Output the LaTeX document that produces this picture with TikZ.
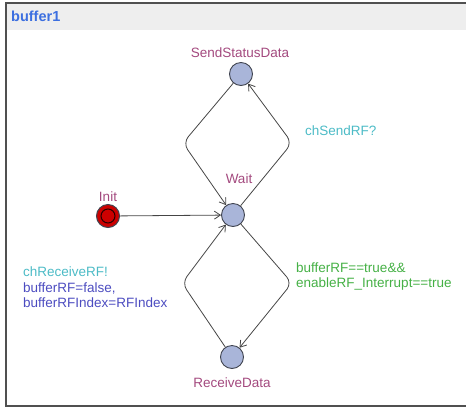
\documentclass[tikz,border=0pt]{standalone}
\usepackage{fontspec}
\setmainfont{Liberation Sans}
\usetikzlibrary{arrows.meta}
\definecolor{frameline}{HTML}{505050}
\definecolor{headfill}{HTML}{EEEEEE}
\definecolor{titleblue}{HTML}{3C6FE0}
\definecolor{locname}{HTML}{A3497E}
\definecolor{locfill}{HTML}{A9B5D9}
\definecolor{locline}{HTML}{404450}
\definecolor{initred}{HTML}{CC0000}
\definecolor{synccol}{HTML}{4CBBC6}
\definecolor{assigncol}{HTML}{4C4CC0}
\definecolor{guardcol}{HTML}{45B045}
\definecolor{edgecol}{HTML}{454545}
\tikzset{
  loc/.style={circle,draw=locline,fill=locfill,line width=0.9pt,minimum size=23pt,inner sep=0pt},
  initloc/.style={circle,draw=locline,fill=initred,line width=1pt,minimum size=23pt,inner sep=0pt},
  lname/.style={text=locname,font=\fontsize{13.5}{16}\selectfont,inner sep=0pt},
  lbl/.style={font=\fontsize{13.5}{16}\selectfont,inner sep=0pt,anchor=west,align=left},
  edge/.style={draw=edgecol,line width=0.8pt,rounded corners=8pt,-{Straight Barb[length=6pt,width=8pt]}}
}
\begin{document}
\begin{tikzpicture}[x=1pt,y=-1pt]
\useasboundingbox (0,0) rectangle (466,408);
% template frame with title bar
\fill[headfill] (6,3) rectangle (470,30);
\draw[frameline,line width=2pt] (470,3) -- (6,3) -- (6,406) -- (470,406);
\node[anchor=west,text=titleblue,font=\fontsize{14.5}{16}\selectfont\bfseries,inner sep=0pt] (title) at (11,16) {buffer1};
% locations
\node[loc] (ssd) at (241,74) {};
\node[loc] (wait) at (233,215) {};
\node[loc] (rcv) at (232,357) {};
\node[initloc] (init) at (108,216) {};
\draw[draw=black!80!initred,line width=1pt] (init.center) circle[radius=7pt];
\node[lname] (ssdname) at (240,53) {SendStatusData};
\node[lname] (waitname) at (239,179) {Wait};
\node[lname] (initname) at (108,197) {Init};
\node[lname] (rcvname) at (232,383) {ReceiveData};
% bend points
\coordinate (tl) at (183,143);
\coordinate (tr) at (292,143);
\coordinate (bl) at (182,283);
\coordinate (br) at (292,283);
% transitions
\draw[edge] (init) -- (wait);
\draw[edge] (ssd) -- (tl) -- (wait);
\draw[edge] (wait) -- (tr) -- (ssd);
\draw[edge] (wait) -- (br) -- (rcv);
\draw[edge] (rcv) -- (bl) -- (wait);
% labels
\node[lbl,text=synccol] (sendsync) at (305,131) {chSendRF?};
\node[lbl,text=synccol] (rcvsync) at (23,272) {chReceiveRF!};
\node[lbl,text=assigncol,anchor=north west] (rcvassign) at (23,283) {bufferRF=false,\\[-1pt]bufferRFIndex=RFIndex};
\node[lbl,text=guardcol,anchor=north west] (guard) at (296,263) {bufferRF==true\&\&\\[-1pt]enableRF\_Interrupt==true};
\end{tikzpicture}
\end{document}
